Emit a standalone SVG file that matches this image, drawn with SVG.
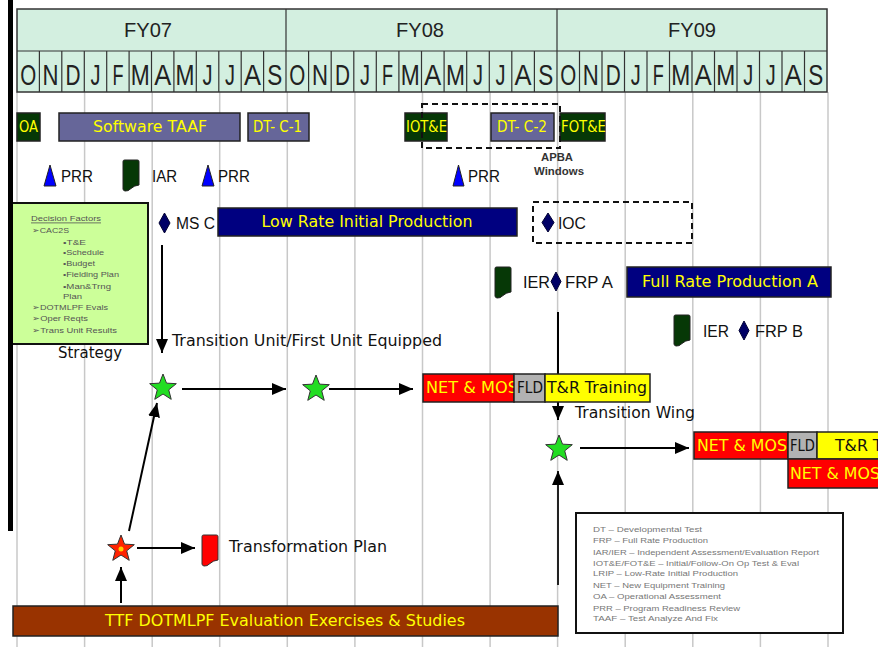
<svg xmlns="http://www.w3.org/2000/svg" xmlns:xlink="http://www.w3.org/1999/xlink" width="878" height="647" viewBox="0 0 878 647">
<style>
.grid{stroke:#c8c8c8;stroke-width:1.5}
.hdr{fill:#d3efe0;stroke:#333;stroke-width:1.5}
.hl{stroke:#333;stroke-width:1.2}
.fy{font-family:"Liberation Sans",Arial,sans-serif;font-size:21px;fill:#222;text-anchor:middle}
.mo{font-family:"Liberation Sans",Arial,sans-serif;font-size:29px;fill:#222;text-anchor:middle}
.bar{stroke:#222;stroke-width:1.5}
.dg{fill:#063806}
.sl{fill:#666699}
.nv{fill:#000080}
.rd{fill:#ff0000}
.gy{fill:#b2b2b2}
.yl{fill:#ffff00}
.br{fill:#993300}
.bt{font-family:"DejaVu Sans",Verdana,sans-serif;font-size:15px;fill:#ffff00;dominant-baseline:central}
.btk{font-family:"DejaVu Sans",Verdana,sans-serif;font-size:15px;fill:#111;dominant-baseline:central}
.lb{font-family:"Liberation Sans",Arial,sans-serif;font-size:16px;fill:#111;dominant-baseline:central}
.lv{font-family:"DejaVu Sans",Verdana,sans-serif;font-size:15px;fill:#111;dominant-baseline:central}
.sm{font-family:"Liberation Sans",Arial,sans-serif;font-size:8px;fill:#555;dominant-baseline:central}
.lg{font-family:"Liberation Sans",Arial,sans-serif;font-size:8px;fill:#777;dominant-baseline:central}
.ap{font-family:"Liberation Sans",Arial,sans-serif;font-size:10px;font-weight:bold;fill:#333;text-anchor:middle;dominant-baseline:central}
.dash{fill:none;stroke:#111;stroke-width:2;stroke-dasharray:6,4}
.con{stroke:#000;stroke-width:2;fill:none;marker-end:url(#ah)}
.tri{fill:#0000ff;stroke:#222;stroke-width:1;stroke-linejoin:round}
.dia{fill:#000066;stroke:#000033;stroke-width:1}
.gstar{fill:#22dd22;stroke:#333;stroke-width:1}
.rstar{fill:#ff2200;stroke:#333;stroke-width:1}
.docg{fill:#063806;stroke:#222;stroke-width:1}
.docr{fill:#ff0000;stroke:#333;stroke-width:1}
</style>
<defs>
<marker id="ah" markerWidth="14" markerHeight="12" refX="14" refY="6" orient="auto" markerUnits="userSpaceOnUse">
<path d="M0,0 L14,6 L0,12 Z" fill="#000"/>
</marker>
<polygon id="star" points="0,-14 3.53,-4.85 13.32,-4.33 5.71,1.85 8.23,11.33 0,6 -8.23,11.33 -5.71,1.85 -13.32,-4.33 -3.53,-4.85"/>
<path id="doc" d="M0,1.5 Q0,0 1.5,0 L14.5,0 Q16,0 16,1.5 L16,25 Q11,25.5 8,28.5 Q5,31.5 2,31 Q0,30.5 0,29 Z"/>
</defs>
<rect width="878" height="647" fill="#fff"/>

<g id="grid">
<line class="grid" x1="17" y1="92" x2="17" y2="647"/>
<line class="grid" x1="84.6" y1="92" x2="84.6" y2="647"/>
<line class="grid" x1="152.2" y1="92" x2="152.2" y2="647"/>
<line class="grid" x1="219.7" y1="92" x2="219.7" y2="647"/>
<line class="grid" x1="287.3" y1="92" x2="287.3" y2="647"/>
<line class="grid" x1="354.9" y1="92" x2="354.9" y2="647"/>
<line class="grid" x1="422.5" y1="92" x2="422.5" y2="647"/>
<line class="grid" x1="490.1" y1="92" x2="490.1" y2="647"/>
<line class="grid" x1="557.6" y1="92" x2="557.6" y2="647"/>
<line class="grid" x1="625.2" y1="92" x2="625.2" y2="647"/>
<line class="grid" x1="692.8" y1="92" x2="692.8" y2="647"/>
<line class="grid" x1="760.4" y1="92" x2="760.4" y2="647"/>
<line class="grid" x1="828" y1="92" x2="828" y2="647"/>
</g>

<g id="header">
<rect class="hdr" x="17" y="9" width="810" height="83"/>
<line class="hl" x1="17" y1="51" x2="827" y2="51"/>
<line class="hl" x1="286" y1="9" x2="286" y2="92"/>
<line class="hl" x1="557" y1="9" x2="557" y2="92"/>
<g class="hl">
<line x1="39.4" y1="51" x2="39.4" y2="92"/><line x1="61.8" y1="51" x2="61.8" y2="92"/><line x1="84.3" y1="51" x2="84.3" y2="92"/><line x1="106.7" y1="51" x2="106.7" y2="92"/><line x1="129.1" y1="51" x2="129.1" y2="92"/><line x1="151.5" y1="51" x2="151.5" y2="92"/><line x1="173.9" y1="51" x2="173.9" y2="92"/><line x1="196.3" y1="51" x2="196.3" y2="92"/><line x1="218.8" y1="51" x2="218.8" y2="92"/><line x1="241.2" y1="51" x2="241.2" y2="92"/><line x1="263.6" y1="51" x2="263.6" y2="92"/>
<line x1="308.6" y1="51" x2="308.6" y2="92"/><line x1="331.2" y1="51" x2="331.2" y2="92"/><line x1="353.8" y1="51" x2="353.8" y2="92"/><line x1="376.3" y1="51" x2="376.3" y2="92"/><line x1="398.9" y1="51" x2="398.9" y2="92"/><line x1="421.5" y1="51" x2="421.5" y2="92"/><line x1="444.1" y1="51" x2="444.1" y2="92"/><line x1="466.7" y1="51" x2="466.7" y2="92"/><line x1="489.3" y1="51" x2="489.3" y2="92"/><line x1="511.8" y1="51" x2="511.8" y2="92"/><line x1="534.4" y1="51" x2="534.4" y2="92"/>
<line x1="579.5" y1="51" x2="579.5" y2="92"/><line x1="602" y1="51" x2="602" y2="92"/><line x1="624.5" y1="51" x2="624.5" y2="92"/><line x1="647" y1="51" x2="647" y2="92"/><line x1="669.5" y1="51" x2="669.5" y2="92"/><line x1="692" y1="51" x2="692" y2="92"/><line x1="714.5" y1="51" x2="714.5" y2="92"/><line x1="737" y1="51" x2="737" y2="92"/><line x1="759.5" y1="51" x2="759.5" y2="92"/><line x1="782" y1="51" x2="782" y2="92"/><line x1="804.5" y1="51" x2="804.5" y2="92"/>
</g>
<text class="fy" x="148" y="37" textLength="48" lengthAdjust="spacingAndGlyphs">FY07</text>
<text class="fy" x="420" y="37" textLength="48" lengthAdjust="spacingAndGlyphs">FY08</text>
<text class="fy" x="692" y="37" textLength="48" lengthAdjust="spacingAndGlyphs">FY09</text>
<g>
<text class="mo" x="28.2" y="85" textLength="16" lengthAdjust="spacingAndGlyphs">O</text>
<text class="mo" x="50.6" y="85" textLength="16" lengthAdjust="spacingAndGlyphs">N</text>
<text class="mo" x="73.1" y="85" textLength="15" lengthAdjust="spacingAndGlyphs">D</text>
<text class="mo" x="95.5" y="85" textLength="10" lengthAdjust="spacingAndGlyphs">J</text>
<text class="mo" x="117.9" y="85" textLength="11" lengthAdjust="spacingAndGlyphs">F</text>
<text class="mo" x="140.3" y="85" textLength="19" lengthAdjust="spacingAndGlyphs">M</text>
<text class="mo" x="162.7" y="85" textLength="17" lengthAdjust="spacingAndGlyphs">A</text>
<text class="mo" x="185.1" y="85" textLength="19" lengthAdjust="spacingAndGlyphs">M</text>
<text class="mo" x="207.6" y="85" textLength="10" lengthAdjust="spacingAndGlyphs">J</text>
<text class="mo" x="230.0" y="85" textLength="10" lengthAdjust="spacingAndGlyphs">J</text>
<text class="mo" x="252.4" y="85" textLength="17" lengthAdjust="spacingAndGlyphs">A</text>
<text class="mo" x="274.8" y="85" textLength="15" lengthAdjust="spacingAndGlyphs">S</text>
<text class="mo" x="297.3" y="85" textLength="16" lengthAdjust="spacingAndGlyphs">O</text>
<text class="mo" x="319.9" y="85" textLength="16" lengthAdjust="spacingAndGlyphs">N</text>
<text class="mo" x="342.5" y="85" textLength="15" lengthAdjust="spacingAndGlyphs">D</text>
<text class="mo" x="365.1" y="85" textLength="10" lengthAdjust="spacingAndGlyphs">J</text>
<text class="mo" x="387.6" y="85" textLength="11" lengthAdjust="spacingAndGlyphs">F</text>
<text class="mo" x="410.2" y="85" textLength="19" lengthAdjust="spacingAndGlyphs">M</text>
<text class="mo" x="432.8" y="85" textLength="17" lengthAdjust="spacingAndGlyphs">A</text>
<text class="mo" x="455.4" y="85" textLength="19" lengthAdjust="spacingAndGlyphs">M</text>
<text class="mo" x="478.0" y="85" textLength="10" lengthAdjust="spacingAndGlyphs">J</text>
<text class="mo" x="500.6" y="85" textLength="10" lengthAdjust="spacingAndGlyphs">J</text>
<text class="mo" x="523.1" y="85" textLength="17" lengthAdjust="spacingAndGlyphs">A</text>
<text class="mo" x="545.7" y="85" textLength="15" lengthAdjust="spacingAndGlyphs">S</text>
<text class="mo" x="568.3" y="85" textLength="16" lengthAdjust="spacingAndGlyphs">O</text>
<text class="mo" x="590.8" y="85" textLength="16" lengthAdjust="spacingAndGlyphs">N</text>
<text class="mo" x="613.3" y="85" textLength="15" lengthAdjust="spacingAndGlyphs">D</text>
<text class="mo" x="635.8" y="85" textLength="10" lengthAdjust="spacingAndGlyphs">J</text>
<text class="mo" x="658.3" y="85" textLength="11" lengthAdjust="spacingAndGlyphs">F</text>
<text class="mo" x="680.8" y="85" textLength="19" lengthAdjust="spacingAndGlyphs">M</text>
<text class="mo" x="703.3" y="85" textLength="17" lengthAdjust="spacingAndGlyphs">A</text>
<text class="mo" x="725.8" y="85" textLength="19" lengthAdjust="spacingAndGlyphs">M</text>
<text class="mo" x="748.3" y="85" textLength="10" lengthAdjust="spacingAndGlyphs">J</text>
<text class="mo" x="770.8" y="85" textLength="10" lengthAdjust="spacingAndGlyphs">J</text>
<text class="mo" x="793.3" y="85" textLength="17" lengthAdjust="spacingAndGlyphs">A</text>
<text class="mo" x="815.8" y="85" textLength="15" lengthAdjust="spacingAndGlyphs">S</text>
</g>
</g>

<g id="connectors">
<line class="con" x1="162" y1="245" x2="162" y2="353"/>
<line class="con" x1="182" y1="389" x2="286" y2="389"/>
<line class="con" x1="329" y1="389" x2="413" y2="389"/>
<line class="con" x1="558" y1="312" x2="558" y2="420"/>
<line class="con" x1="580" y1="448" x2="689" y2="448"/>
<line class="con" x1="558" y1="585" x2="558" y2="471" style="stroke:#222"/>
<line class="con" x1="137" y1="548" x2="195" y2="548"/>
<line class="con" x1="121" y1="603" x2="121" y2="567"/>
<line class="con" x1="129" y1="531" x2="157" y2="403"/>
</g>

<g id="oa"><rect class="bar dg" x="17" y="113" width="23" height="28"/><text class="bt" x="19" y="127" textLength="19" lengthAdjust="spacingAndGlyphs">OA</text></g>
<g id="software-taaf"><rect class="bar sl" x="59" y="113" width="181" height="28"/><text class="bt" x="150" y="127" text-anchor="middle" textLength="114" lengthAdjust="spacingAndGlyphs">Software TAAF</text></g>
<g id="dt-c-1"><rect class="bar sl" x="248" y="113" width="61" height="28"/><text class="bt" x="253" y="127" textLength="49" lengthAdjust="spacingAndGlyphs">DT- C-1</text></g>
<g id="iote"><rect class="bar dg" x="405" y="113" width="42" height="28"/><text class="bt" x="406" y="127" textLength="41" lengthAdjust="spacingAndGlyphs">IOT&amp;E</text></g>
<g id="dt-c-2"><rect class="bar sl" x="491" y="113" width="63" height="28"/><text class="bt" x="497" y="127" textLength="50" lengthAdjust="spacingAndGlyphs">DT- C-2</text></g>
<g id="fote"><rect class="bar dg" x="560" y="113" width="45" height="28"/><text class="bt" x="561" y="127" textLength="45" lengthAdjust="spacingAndGlyphs">FOT&amp;E</text></g>
<g id="apba-window"><rect class="dash" x="422" y="104" width="138" height="44"/><text class="ap" x="557" y="157" textLength="32" lengthAdjust="spacingAndGlyphs">APBA</text><text class="ap" x="559" y="171" textLength="50" lengthAdjust="spacingAndGlyphs">Windows</text></g>

<g id="prr-1"><polygon class="tri" points="50,165 56,186 44,186"/><text class="lb" x="61" y="176" textLength="32" lengthAdjust="spacingAndGlyphs">PRR</text></g>
<g id="iar"><use href="#doc" xlink:href="#doc" class="docg" x="123" y="160"/><text class="lb" x="152" y="176" textLength="25" lengthAdjust="spacingAndGlyphs">IAR</text></g>
<g id="prr-2"><polygon class="tri" points="208,165 214,186 202,186"/><text class="lb" x="218" y="176" textLength="32" lengthAdjust="spacingAndGlyphs">PRR</text></g>
<g id="prr-3"><polygon class="tri" points="458.5,165 464,186 453,186"/><text class="lb" x="468" y="176" textLength="32" lengthAdjust="spacingAndGlyphs">PRR</text></g>

<g id="decision-factors">
<rect x="12" y="203" width="136" height="141" fill="#ccff99" stroke="#111" stroke-width="2"/>
<text class="sm" x="31" y="218" textLength="70" lengthAdjust="spacingAndGlyphs" text-decoration="underline">Decision Factors</text>
<text class="sm" x="32" y="230" textLength="37" lengthAdjust="spacingAndGlyphs">➢CAC2S</text>
<text class="sm" x="63" y="242" textLength="23" lengthAdjust="spacingAndGlyphs">•T&amp;E</text>
<text class="sm" x="63" y="252" textLength="41" lengthAdjust="spacingAndGlyphs">•Schedule</text>
<text class="sm" x="63" y="263" textLength="32" lengthAdjust="spacingAndGlyphs">•Budget</text>
<text class="sm" x="63" y="274" textLength="56" lengthAdjust="spacingAndGlyphs">•Fielding Plan</text>
<text class="sm" x="63" y="286" textLength="48" lengthAdjust="spacingAndGlyphs">•Man&amp;Trng</text>
<text class="sm" x="63" y="296" textLength="19" lengthAdjust="spacingAndGlyphs">Plan</text>
<text class="sm" x="32" y="307" textLength="76" lengthAdjust="spacingAndGlyphs">➢DOTMLPF Evals</text>
<text class="sm" x="32" y="318" textLength="56" lengthAdjust="spacingAndGlyphs">➢Oper Reqts</text>
<text class="sm" x="32" y="330" textLength="85" lengthAdjust="spacingAndGlyphs">➢Trans Unit Results</text>
</g>
<g id="strategy"><text class="lv" x="90" y="353" text-anchor="middle" textLength="64" lengthAdjust="spacingAndGlyphs">Strategy</text></g>

<g id="ms-c"><polygon class="dia" points="164.5,213 170,223 164.5,233 159,223"/><text class="lb" x="176" y="223" textLength="39" lengthAdjust="spacingAndGlyphs">MS C</text></g>
<g id="lrip"><rect class="bar nv" x="218" y="208" width="299" height="28"/><text class="bt" x="367" y="222" text-anchor="middle" textLength="211" lengthAdjust="spacingAndGlyphs">Low Rate Initial Production</text></g>
<g id="ioc"><rect class="dash" x="533" y="202" width="159" height="41"/><polygon class="dia" points="548,213 554,222.5 548,232 542,222.5"/><text class="lb" x="558" y="223" textLength="28" lengthAdjust="spacingAndGlyphs">IOC</text></g>

<g id="ier-a"><use href="#doc" xlink:href="#doc" class="docg" x="495" y="267"/><text class="lb" x="523" y="282" textLength="27" lengthAdjust="spacingAndGlyphs">IER</text></g>
<g id="frp-a"><polygon class="dia" points="556,272 561,281.5 556,291 551,281.5"/><text class="lb" x="565" y="282" textLength="48" lengthAdjust="spacingAndGlyphs">FRP A</text></g>
<g id="full-rate-a"><rect class="bar nv" x="627" y="267" width="204" height="30"/><text class="bt" x="730" y="282" text-anchor="middle" textLength="176" lengthAdjust="spacingAndGlyphs">Full Rate Production A</text></g>
<g id="ier-b"><use href="#doc" xlink:href="#doc" class="docg" x="674" y="315"/><text class="lb" x="703" y="331" textLength="26" lengthAdjust="spacingAndGlyphs">IER</text></g>
<g id="frp-b"><polygon class="dia" points="744,321 749,330.5 744,340 739,330.5"/><text class="lb" x="755" y="331" textLength="48" lengthAdjust="spacingAndGlyphs">FRP B</text></g>

<g id="transition-unit"><text class="lv" x="172" y="341" textLength="270" lengthAdjust="spacingAndGlyphs">Transition Unit/First Unit Equipped</text></g>
<g id="star-1"><use href="#star" xlink:href="#star" class="gstar" transform="translate(163,388)"/></g>
<g id="star-2"><use href="#star" xlink:href="#star" class="gstar" transform="translate(316,389)"/></g>

<g id="training-1">
<rect class="bar rd" x="423" y="374" width="91" height="28"/>
<text class="bt" x="426" y="388" textLength="92" lengthAdjust="spacingAndGlyphs">NET &amp; MOS</text>
<rect class="bar gy" x="514" y="374" width="31" height="28"/>
<text class="btk" x="517" y="388" textLength="26" lengthAdjust="spacingAndGlyphs">FLD</text>
<rect class="bar yl" x="545" y="374" width="105" height="28"/>
<text class="btk" x="547" y="388" textLength="100" lengthAdjust="spacingAndGlyphs">T&amp;R Training</text>
</g>
<g id="transition-wing"><text class="lv" x="575" y="413" textLength="120" lengthAdjust="spacingAndGlyphs">Transition Wing</text></g>
<g id="star-3"><use href="#star" xlink:href="#star" class="gstar" transform="translate(559,449)"/></g>

<g id="training-2">
<rect class="bar rd" x="694" y="432" width="94" height="27"/>
<text class="bt" x="697" y="445.5" textLength="90" lengthAdjust="spacingAndGlyphs">NET &amp; MOS</text>
<rect class="bar gy" x="788" y="432" width="29" height="27"/>
<text class="btk" x="790" y="445.5" textLength="25" lengthAdjust="spacingAndGlyphs">FLD</text>
<rect class="bar yl" x="817" y="432" width="120" height="27"/>
<text class="btk" x="835" y="445.5" textLength="100" lengthAdjust="spacingAndGlyphs">T&amp;R Training</text>
</g>
<g id="training-3">
<rect class="bar rd" x="788" y="459" width="150" height="29"/>
<text class="bt" x="790" y="473.5" textLength="90" lengthAdjust="spacingAndGlyphs">NET &amp; MOS</text>
</g>

<g id="red-star"><use href="#star" xlink:href="#star" class="rstar" transform="translate(121,549)"/><circle cx="121" cy="549" r="2.5" fill="#ffcc00"/></g>
<g id="transformation-plan"><use href="#doc" xlink:href="#doc" class="docr" x="202" y="535"/><text class="lv" x="229" y="547" textLength="158" lengthAdjust="spacingAndGlyphs">Transformation Plan</text></g>

<g id="ttf"><rect class="bar br" x="13" y="606" width="545" height="30"/><text class="bt" x="285" y="621" text-anchor="middle" textLength="360" lengthAdjust="spacingAndGlyphs">TTF DOTMLPF Evaluation Exercises &amp; Studies</text></g>

<g id="legend">
<rect x="576" y="513" width="267" height="120" fill="#fff" stroke="#111" stroke-width="2"/>
<text class="lg" x="593" y="529" textLength="109" lengthAdjust="spacingAndGlyphs">DT – Developmental Test</text>
<text class="lg" x="593" y="540" textLength="115" lengthAdjust="spacingAndGlyphs">FRP – Full Rate Production</text>
<text class="lg" x="593" y="552" textLength="226" lengthAdjust="spacingAndGlyphs">IAR/IER – Independent Assessment/Evaluation Report</text>
<text class="lg" x="593" y="563" textLength="206" lengthAdjust="spacingAndGlyphs">IOT&amp;E/FOT&amp;E – Initial/Follow-On Op Test &amp; Eval</text>
<text class="lg" x="593" y="573" textLength="145" lengthAdjust="spacingAndGlyphs">LRIP – Low-Rate Initial Production</text>
<text class="lg" x="593" y="585" textLength="132" lengthAdjust="spacingAndGlyphs">NET – New Equipment Training</text>
<text class="lg" x="593" y="596" textLength="128" lengthAdjust="spacingAndGlyphs">OA – Operational Assessment</text>
<text class="lg" x="593" y="608" textLength="147" lengthAdjust="spacingAndGlyphs">PRR – Program Readiness Review</text>
<text class="lg" x="593" y="618" textLength="125" lengthAdjust="spacingAndGlyphs">TAAF – Test Analyze And Fix</text>
</g>

<g id="left-bar"><rect x="8" y="0" width="5" height="531" fill="#000"/></g>
</svg>
